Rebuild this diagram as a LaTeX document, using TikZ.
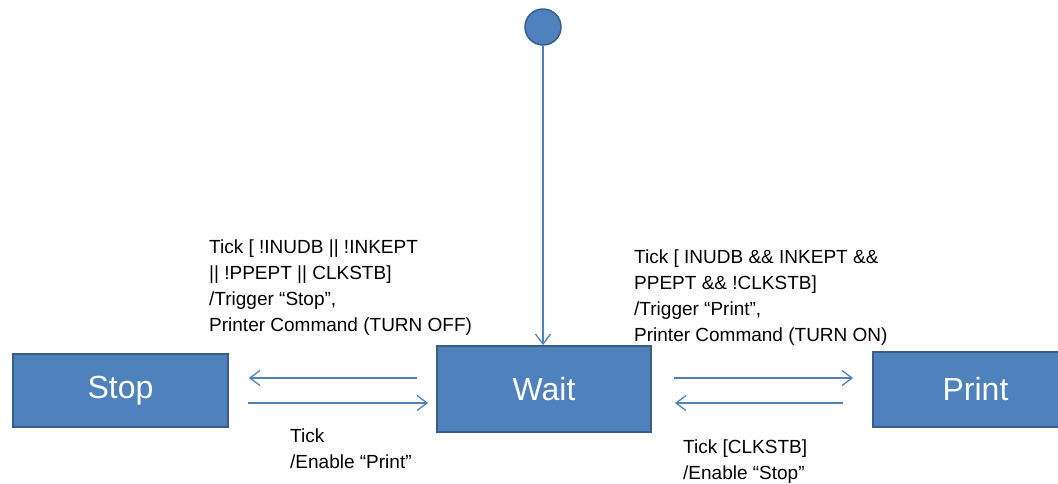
\documentclass[tikz,border=0pt]{standalone}
\usepackage{fontspec}
\setmainfont{Liberation Sans}
\usetikzlibrary{arrows.meta}
\definecolor{boxblue}{HTML}{4F81BD}
\definecolor{boxedge}{HTML}{385D8A}
\definecolor{lineblue}{HTML}{4F81BD}
\begin{document}
\begin{tikzpicture}[x=1pt,y=-1pt,
  statebox/.style={draw=boxedge,line width=1.8pt,fill=boxblue,text=white,
    font=\fontsize{32}{38}\selectfont,inner sep=0pt,anchor=center},
  lbl/.style={anchor=north west,inner sep=0pt,align=left,
    font=\fontsize{19}{26}\selectfont},
  arr/.style={draw=lineblue,line width=1.3pt,-{Straight Barb[length=10pt,width=15pt,line width=1.3pt]}}
]
\useasboundingbox (0,0) rectangle (1058,483);
\clip (0,0) rectangle (1058,483);
% states
\node[statebox,minimum width=215pt,minimum height=73pt] (stop) at (120.5,390.5) {Stop};
\node[statebox,minimum width=214pt,minimum height=86pt] (wait) at (544,389) {Wait};
\node[statebox,minimum width=205pt,minimum height=75pt] (print) at (975.5,389.5) {Print};
% initial
\node[circle,draw=boxedge,line width=1.5pt,fill=boxblue,minimum size=36pt,inner sep=0pt] (init) at (543,27) {};
\draw[arr] (init.south) -- (init.south |- wait.north);
% level coordinates
\coordinate (up) at (0,378);
\coordinate (dn) at (0,403);
% Wait <-> Stop
\draw[arr,shorten <=19pt,shorten >=20pt] (wait.west |- up) -- (stop.east |- up);
\draw[arr,shorten <=19pt,shorten >=8pt] (stop.east |- dn) -- (wait.west |- dn);
% Wait <-> Print
\draw[arr,shorten <=22pt,shorten >=19pt] (wait.east |- up) -- (print.west |- up);
\draw[arr,shorten <=29pt,shorten >=23pt] (print.west |- dn) -- (wait.east |- dn);
% labels
\node[lbl] (l1) at (209,234.8) {\strut Tick [ !INUDB || !INKEPT\\|| !PPEPT || CLKSTB]\\/Trigger “Stop”,\\Printer Command (TURN OFF)};
\node[lbl] (l2) at (290,423.8) {\strut Tick\\/Enable “Print”};
\node[lbl] (l3) at (634,244.8) {\strut Tick [ INUDB \&\& INKEPT \&\&\\PPEPT \&\& !CLKSTB]\\/Trigger “Print”,\\Printer Command (TURN ON)};
\node[lbl] (l4) at (683,434.8) {\strut Tick [CLKSTB]\\/Enable “Stop”};
\end{tikzpicture}
\end{document}
